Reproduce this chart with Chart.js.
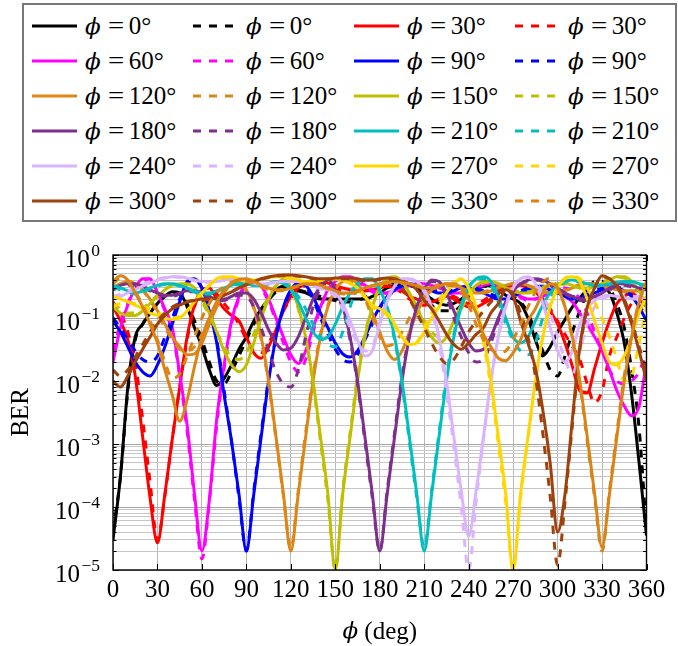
<!DOCTYPE html>
<html>
<head>
<meta charset="utf-8">
<script src="https://cdn.jsdelivr.net/npm/chart.js@4.4.0/dist/chart.umd.min.js"></script>
<style>
  body { margin: 0; background: #fff; }
  #wrap { position: relative; width: 678px; height: 646px; }
  #chart { position: absolute; left: 0; top: 0; }
  #legendBox { position: absolute; left: 22px; top: 3px; width: 655px; height: 219px;
    border: 2px solid #777; box-sizing: border-box; background: #fff; }
  .item { position: absolute; height: 35px; display: flex; align-items: center;
    font-family: "Liberation Serif", "DejaVu Serif", serif; font-size: 25px; color: #000; white-space: nowrap; }
  .item svg { margin-right: 8px; }
  .item i { font-family: "DejaVu Serif", serif; font-size: 23px; }
  .item .eq { display: inline-block; margin: 0 6px 0 8px; transform: scaleX(1.15); }
</style>
</head>
<body>
<div id="wrap">
  <canvas id="chart" width="678" height="646"></canvas>
  <div id="legendBox"></div>
</div>
<script>
// phase offset (deg), shared x values
const phiDeg = [0,5,10,15,20,25,30,35,40,45,50,55,60,65,70,75,80,85,90,95,100,105,110,115,
  120,125,130,135,140,145,150,155,160,165,170,175,180,185,190,195,200,205,210,215,220,225,230,235,
  240,245,250,255,260,265,270,275,280,285,290,295,300,305,310,315,320,325,330,335,340,345,350,355,360];

const xTicks = [0,30,60,90,120,150,180,210,240,270,300,330,360];
const yDecades = [-5,-4,-3,-2,-1,0];

// BER curves (solid / dashed for each phi)
const ber0 = [3e-5,3e-4,8e-3,0.05,0.08,0.12,0.17,0.22,0.26,0.25,0.15,0.07,
  0.035,0.015,0.0085,0.011,0.018,0.032,0.05,0.09,0.14,0.2,0.28,0.32,
  0.3,0.27,0.25,0.22,0.2,0.2,0.2,0.2,0.2,0.2,0.2,0.22,
  0.25,0.3,0.33,0.35,0.33,0.3,0.25,0.2,0.17,0.16,0.17,0.2,
  0.25,0.3,0.33,0.32,0.28,0.23,0.2,0.17,0.1,0.045,0.025,0.035,
  0.06,0.095,0.15,0.21,0.28,0.33,0.34,0.25,0.12,0.04,6e-3,5e-4,
  3.5e-5];
const ber0d = [4e-5,3e-4,7e-3,0.045,0.08,0.12,0.17,0.22,0.25,0.24,0.17,0.09,
  0.045,0.02,0.01,0.009,0.014,0.025,0.045,0.08,0.13,0.19,0.26,0.3,
  0.3,0.28,0.26,0.24,0.22,0.2,0.19,0.18,0.18,0.19,0.21,0.25,
  0.3,0.35,0.37,0.38,0.34,0.28,0.21,0.16,0.13,0.13,0.13,0.16,
  0.22,0.28,0.32,0.32,0.3,0.26,0.22,0.18,0.12,0.06,0.03,0.015,
  0.012,0.025,0.06,0.13,0.25,0.38,0.38,0.3,0.17,0.07,0.015,1.8e-3,
  4e-5];
const ber30 = [0.15,0.09,0.045,0.012,1.3e-3,1.4e-4,2.7e-5,1.6e-4,1.2e-3,8e-3,0.05,0.16,
  0.28,0.3,0.2,0.14,0.11,0.09,0.05,0.028,0.023,0.035,0.065,0.13,
  0.22,0.3,0.35,0.38,0.38,0.36,0.33,0.3,0.28,0.27,0.27,0.28,
  0.3,0.32,0.3,0.27,0.22,0.2,0.18,0.18,0.2,0.22,0.2,0.17,
  0.15,0.15,0.17,0.2,0.25,0.3,0.33,0.33,0.3,0.26,0.2,0.13,
  0.08,0.04,0.017,0.007,0.0065,0.016,0.04,0.09,0.17,0.22,0.25,0.2,
  0.15];
const ber30d = [0.18,0.12,0.06,0.02,2.5e-3,2.5e-4,3e-5,1.5e-4,1.2e-3,8e-3,0.045,0.15,
  0.27,0.3,0.24,0.17,0.12,0.08,0.045,0.03,0.028,0.04,0.07,0.13,
  0.2,0.28,0.33,0.36,0.36,0.34,0.3,0.27,0.25,0.25,0.27,0.3,
  0.33,0.33,0.3,0.25,0.2,0.17,0.16,0.17,0.2,0.23,0.22,0.19,
  0.17,0.17,0.19,0.23,0.28,0.32,0.35,0.35,0.32,0.26,0.2,0.14,
  0.09,0.055,0.035,0.022,0.009,0.0045,0.007,0.025,0.05,0.1,0.17,0.2,
  0.18];
const ber60 = [0.02,0.07,0.16,0.3,0.42,0.42,0.25,0.14,0.07,0.013,2e-3,1.6e-4,
  2e-5,1.3e-4,2.5e-3,0.018,0.09,0.22,0.35,0.38,0.32,0.2,0.1,0.05,
  0.026,0.019,0.03,0.07,0.15,0.28,0.38,0.45,0.45,0.4,0.33,0.28,
  0.25,0.25,0.27,0.3,0.33,0.35,0.35,0.33,0.3,0.27,0.25,0.25,
  0.27,0.3,0.33,0.35,0.33,0.3,0.26,0.22,0.2,0.2,0.22,0.25,
  0.25,0.22,0.18,0.12,0.08,0.05,0.03,0.015,0.007,0.004,0.0028,0.004,
  0.02];
const ber60d = [0.03,0.08,0.17,0.3,0.4,0.38,0.24,0.13,0.06,0.012,1.6e-3,1.3e-4,
  1.5e-5,1.2e-4,2e-3,0.016,0.08,0.2,0.33,0.36,0.3,0.18,0.09,0.04,
  0.02,0.014,0.022,0.06,0.14,0.27,0.37,0.43,0.43,0.38,0.31,0.26,
  0.24,0.25,0.28,0.32,0.35,0.36,0.35,0.32,0.28,0.25,0.24,0.25,
  0.28,0.32,0.35,0.36,0.34,0.3,0.25,0.21,0.19,0.2,0.23,0.27,
  0.3,0.3,0.27,0.2,0.12,0.06,0.03,0.015,0.01,0.009,0.01,0.014,
  0.03];
const ber90 = [0.09,0.06,0.035,0.02,0.014,0.012,0.018,0.035,0.08,0.18,0.38,0.42,
  0.3,0.13,0.04,6e-3,1.1e-3,1.6e-4,2e-5,1.6e-4,1.3e-3,0.01,0.05,0.15,
  0.28,0.36,0.33,0.22,0.12,0.07,0.04,0.027,0.024,0.03,0.05,0.09,
  0.15,0.22,0.28,0.33,0.35,0.33,0.3,0.27,0.25,0.25,0.27,0.3,
  0.3,0.28,0.25,0.22,0.2,0.2,0.22,0.25,0.28,0.3,0.3,0.28,
  0.25,0.22,0.2,0.2,0.22,0.25,0.28,0.3,0.3,0.27,0.22,0.15,
  0.09];
const ber90d = [0.1,0.07,0.045,0.03,0.022,0.02,0.025,0.05,0.1,0.2,0.35,0.4,
  0.3,0.14,0.045,7e-3,1.1e-3,1.4e-4,2e-5,1.8e-4,1.5e-3,0.011,0.05,0.14,
  0.26,0.33,0.3,0.2,0.1,0.055,0.032,0.022,0.02,0.026,0.045,0.08,
  0.14,0.21,0.27,0.32,0.34,0.33,0.31,0.28,0.26,0.26,0.28,0.31,
  0.32,0.3,0.27,0.24,0.22,0.22,0.24,0.27,0.3,0.32,0.32,0.3,
  0.27,0.24,0.22,0.22,0.24,0.27,0.3,0.31,0.31,0.28,0.23,0.16,
  0.1];
const ber120 = [0.3,0.35,0.38,0.35,0.28,0.2,0.13,0.08,0.05,0.035,0.026,0.027,
  0.04,0.08,0.15,0.25,0.35,0.38,0.28,0.15,0.05,0.01,1.3e-3,1.6e-4,
  2e-5,1.6e-4,1.3e-3,0.01,0.05,0.15,0.28,0.38,0.4,0.35,0.22,0.12,
  0.06,0.03,0.022,0.03,0.06,0.12,0.2,0.28,0.33,0.35,0.33,0.3,
  0.27,0.25,0.25,0.27,0.3,0.33,0.35,0.35,0.33,0.3,0.27,0.25,
  0.25,0.27,0.3,0.33,0.35,0.35,0.33,0.3,0.28,0.27,0.27,0.28,
  0.3];
const ber120d = [0.28,0.32,0.35,0.33,0.27,0.19,0.12,0.07,0.045,0.032,0.03,0.035,
  0.055,0.1,0.18,0.28,0.36,0.37,0.27,0.14,0.045,9e-3,1.2e-3,1.5e-4,
  2.2e-5,1.8e-4,1.5e-3,0.012,0.055,0.16,0.29,0.37,0.38,0.32,0.2,0.1,
  0.05,0.036,0.04,0.06,0.1,0.16,0.23,0.3,0.34,0.35,0.33,0.3,
  0.27,0.25,0.26,0.28,0.31,0.34,0.35,0.34,0.32,0.29,0.26,0.25,
  0.26,0.28,0.31,0.34,0.35,0.34,0.32,0.29,0.27,0.26,0.26,0.27,
  0.28];
const ber150 = [0.15,0.12,0.11,0.11,0.13,0.17,0.22,0.28,0.33,0.35,0.35,0.3,
  0.2,0.12,0.06,0.03,0.018,0.014,0.018,0.04,0.1,0.2,0.32,0.42,
  0.3,0.15,0.05,0.01,1.3e-3,1.6e-4,1e-5,1.6e-4,1.3e-3,0.01,0.05,0.15,
  0.3,0.42,0.45,0.38,0.25,0.15,0.08,0.05,0.04,0.05,0.09,0.16,
  0.25,0.33,0.38,0.38,0.35,0.3,0.27,0.25,0.25,0.27,0.3,0.33,
  0.35,0.35,0.33,0.3,0.3,0.32,0.35,0.4,0.45,0.45,0.38,0.27,
  0.15];
const ber150d = [0.17,0.14,0.12,0.12,0.14,0.18,0.23,0.29,0.33,0.34,0.33,0.27,
  0.18,0.11,0.06,0.035,0.024,0.022,0.028,0.055,0.12,0.22,0.33,0.4,
  0.3,0.14,0.045,9e-3,1.1e-3,1.3e-4,1e-5,1.8e-4,1.5e-3,0.012,0.055,0.16,
  0.31,0.41,0.43,0.36,0.24,0.15,0.09,0.06,0.05,0.05,0.08,0.14,
  0.22,0.3,0.36,0.37,0.35,0.31,0.28,0.26,0.26,0.28,0.31,0.34,
  0.35,0.34,0.32,0.3,0.3,0.33,0.37,0.41,0.44,0.43,0.37,0.27,
  0.17];
const ber180 = [0.3,0.33,0.35,0.35,0.32,0.28,0.25,0.23,0.23,0.25,0.27,0.27,
  0.25,0.22,0.2,0.2,0.22,0.25,0.25,0.2,0.12,0.065,0.04,0.031,
  0.033,0.05,0.1,0.2,0.32,0.42,0.28,0.15,0.05,0.01,1.3e-3,1.6e-4,
  2e-5,1.6e-4,1.3e-3,0.01,0.05,0.15,0.28,0.4,0.38,0.25,0.13,0.07,
  0.04,0.03,0.032,0.05,0.1,0.18,0.27,0.35,0.4,0.42,0.4,0.35,
  0.3,0.25,0.22,0.2,0.2,0.22,0.25,0.3,0.35,0.35,0.33,0.3,
  0.3];
const ber180d = [0.28,0.31,0.33,0.33,0.3,0.27,0.24,0.22,0.22,0.24,0.26,0.26,
  0.24,0.21,0.19,0.19,0.21,0.23,0.22,0.15,0.07,0.03,0.014,9e-3,
  8e-3,0.015,0.05,0.15,0.3,0.4,0.27,0.14,0.045,9e-3,1.1e-3,1.4e-4,
  2e-5,1.8e-4,1.5e-3,0.012,0.055,0.16,0.29,0.38,0.36,0.22,0.1,0.05,
  0.028,0.02,0.022,0.04,0.09,0.17,0.26,0.34,0.39,0.4,0.38,0.33,
  0.28,0.24,0.21,0.19,0.19,0.21,0.24,0.28,0.32,0.33,0.31,0.29,
  0.28];
const ber210 = [0.33,0.3,0.27,0.25,0.27,0.3,0.33,0.35,0.35,0.33,0.3,0.27,
  0.25,0.25,0.27,0.3,0.33,0.35,0.35,0.33,0.33,0.35,0.38,0.35,
  0.28,0.18,0.1,0.06,0.046,0.05,0.08,0.15,0.25,0.35,0.42,0.42,
  0.28,0.15,0.05,0.01,1.3e-3,1.6e-4,2e-5,1.6e-4,1.3e-3,0.01,0.05,0.15,
  0.3,0.42,0.45,0.38,0.22,0.1,0.05,0.04,0.05,0.09,0.16,0.25,
  0.33,0.38,0.4,0.38,0.35,0.33,0.33,0.35,0.37,0.38,0.38,0.35,
  0.33];
const ber210d = [0.31,0.28,0.26,0.24,0.26,0.29,0.32,0.34,0.34,0.32,0.29,0.26,
  0.24,0.24,0.26,0.29,0.32,0.34,0.34,0.33,0.33,0.35,0.37,0.36,
  0.3,0.22,0.14,0.08,0.05,0.038,0.035,0.06,0.15,0.3,0.4,0.4,
  0.27,0.14,0.045,9e-3,1.1e-3,1.4e-4,2.3e-5,1.8e-4,1.5e-3,0.012,0.055,0.16,
  0.31,0.41,0.42,0.33,0.18,0.08,0.045,0.03,0.026,0.04,0.1,0.2,
  0.31,0.37,0.39,0.37,0.34,0.32,0.32,0.34,0.36,0.37,0.36,0.34,
  0.31];
const ber240 = [0.2,0.22,0.25,0.28,0.32,0.36,0.4,0.43,0.45,0.45,0.43,0.4,
  0.38,0.38,0.38,0.4,0.42,0.42,0.4,0.37,0.35,0.35,0.37,0.38,
  0.38,0.38,0.36,0.33,0.3,0.28,0.25,0.17,0.09,0.045,0.025,0.03,
  0.08,0.18,0.32,0.42,0.42,0.38,0.28,0.15,0.05,0.01,1.3e-3,1.8e-4,
  3.4e-5,1.8e-4,1.3e-3,0.01,0.05,0.15,0.3,0.42,0.45,0.35,0.17,0.07,
  0.03,0.02,0.03,0.08,0.14,0.19,0.22,0.23,0.22,0.21,0.2,0.2,
  0.2];
const ber240d = [0.22,0.24,0.27,0.3,0.34,0.38,0.41,0.44,0.45,0.44,0.42,0.39,
  0.37,0.37,0.38,0.4,0.41,0.41,0.39,0.36,0.34,0.35,0.37,0.38,
  0.38,0.37,0.35,0.32,0.29,0.26,0.22,0.14,0.07,0.04,0.03,0.035,
  0.09,0.2,0.33,0.41,0.41,0.36,0.26,0.13,0.04,7e-3,9e-4,1e-4,
  1e-5,1.2e-4,1.2e-3,0.01,0.05,0.16,0.31,0.42,0.44,0.38,0.24,0.12,
  0.05,0.022,0.013,0.03,0.08,0.15,0.2,0.22,0.22,0.22,0.22,0.22,
  0.22];
const ber270 = [0.22,0.2,0.18,0.16,0.14,0.12,0.11,0.1,0.095,0.1,0.13,0.18,
  0.25,0.33,0.42,0.45,0.45,0.42,0.4,0.4,0.42,0.45,0.45,0.45,
  0.43,0.4,0.38,0.38,0.4,0.42,0.42,0.4,0.36,0.3,0.22,0.16,
  0.14,0.12,0.08,0.05,0.038,0.04,0.06,0.1,0.15,0.25,0.35,0.42,
  0.3,0.15,0.05,0.01,1.3e-3,1.6e-4,1e-5,1.6e-4,1.3e-3,0.01,0.05,0.15,
  0.3,0.42,0.45,0.38,0.2,0.09,0.04,0.02,0.018,0.025,0.05,0.12,
  0.22];
const ber270d = [0.15,0.17,0.18,0.17,0.15,0.14,0.12,0.11,0.1,0.105,0.13,0.18,
  0.25,0.33,0.41,0.44,0.44,0.41,0.39,0.39,0.41,0.44,0.45,0.44,
  0.42,0.39,0.37,0.37,0.39,0.41,0.41,0.39,0.35,0.29,0.21,0.15,
  0.13,0.11,0.075,0.05,0.04,0.042,0.07,0.12,0.19,0.29,0.38,0.41,
  0.28,0.13,0.04,8e-3,1e-3,1.2e-4,1e-5,1.4e-4,1.2e-3,0.01,0.05,0.16,
  0.31,0.43,0.46,0.42,0.3,0.18,0.1,0.05,0.022,0.01,0.012,0.04,
  0.15];
const ber300 = [0.01,0.008,0.012,0.02,0.032,0.05,0.08,0.11,0.14,0.16,0.18,0.19,
  0.2,0.2,0.21,0.23,0.26,0.3,0.34,0.38,0.42,0.45,0.47,0.48,
  0.48,0.47,0.45,0.43,0.42,0.42,0.43,0.43,0.43,0.42,0.4,0.4,
  0.42,0.43,0.42,0.38,0.35,0.28,0.19,0.14,0.09,0.055,0.038,0.032,
  0.04,0.055,0.07,0.12,0.17,0.28,0.22,0.09,0.04,0.016,3.5e-3,5e-4,
  4e-5,1.6e-4,2.5e-3,0.035,0.15,0.3,0.47,0.42,0.32,0.18,0.08,0.03,
  0.01];
const ber300d = [0.015,0.012,0.015,0.024,0.038,0.06,0.09,0.12,0.15,0.17,0.18,0.19,
  0.19,0.2,0.21,0.23,0.26,0.3,0.34,0.38,0.41,0.44,0.46,0.47,
  0.47,0.46,0.44,0.42,0.41,0.41,0.42,0.42,0.42,0.41,0.39,0.39,
  0.41,0.41,0.38,0.3,0.2,0.12,0.07,0.04,0.025,0.019,0.022,0.035,
  0.06,0.09,0.13,0.18,0.24,0.3,0.24,0.12,0.05,0.012,1.5e-3,1.5e-4,
  1.2e-5,1.2e-4,2e-3,0.03,0.14,0.3,0.45,0.42,0.33,0.2,0.09,0.035,
  0.015];
const ber330 = [0.38,0.47,0.4,0.25,0.15,0.08,0.04,0.015,6e-3,2.3e-3,5e-3,0.017,
  0.05,0.1,0.18,0.27,0.36,0.41,0.42,0.38,0.33,0.3,0.28,0.28,
  0.3,0.33,0.35,0.35,0.33,0.3,0.27,0.25,0.25,0.27,0.3,0.33,
  0.35,0.37,0.38,0.37,0.35,0.33,0.3,0.3,0.32,0.35,0.35,0.3,
  0.2,0.12,0.055,0.035,0.023,0.021,0.028,0.045,0.09,0.14,0.25,0.35,
  0.3,0.15,0.05,0.01,1.3e-3,1.6e-4,2.3e-5,1.6e-4,1.3e-3,0.01,0.05,0.18,
  0.38];
const ber330d = [0.35,0.43,0.38,0.26,0.16,0.09,0.045,0.02,0.011,0.013,0.025,0.05,
  0.1,0.17,0.25,0.32,0.37,0.39,0.38,0.35,0.31,0.28,0.27,0.27,
  0.29,0.32,0.34,0.34,0.32,0.29,0.26,0.24,0.24,0.26,0.29,0.32,
  0.34,0.36,0.37,0.36,0.34,0.32,0.29,0.29,0.31,0.33,0.32,0.26,
  0.16,0.08,0.045,0.032,0.028,0.03,0.045,0.08,0.15,0.26,0.37,0.43,
  0.29,0.15,0.045,9e-3,1.1e-3,1.4e-4,2e-5,1.8e-4,1.5e-3,0.012,0.055,0.18,
  0.35];

const angles = [0,30,60,90,120,150,180,210,240,270,300,330];
const colors = ['#000000','#ff0000','#ff00ff','#0000ff','#dd8616','#bfbf00',
  '#7e2f8e','#00bfbf','#dbb4ff','#ffd700','#9e410d','#d98414'];
const solidSeries = [ber0,ber30,ber60,ber90,ber120,ber150,ber180,ber210,ber240,ber270,ber300,ber330];
const dashedSeries = [ber0d,ber30d,ber60d,ber90d,ber120d,ber150d,ber180d,ber210d,ber240d,ber270d,ber300d,ber330d];

const series = [];
angles.forEach((a, i) => {
  series.push({ angle: a, color: colors[i], dashed: false, values: solidSeries[i] });
  series.push({ angle: a, color: colors[i], dashed: true, values: dashedSeries[i] });
});

const DASH = [8, 8];
const SERIF = '"Liberation Serif", "DejaVu Serif", serif';

// html legend, 4 columns x 6 rows
const wrap = document.getElementById('wrap');
series.forEach((s, i) => {
  const col = i % 4, row = Math.floor(i / 4);
  const el = document.createElement('div');
  el.className = 'item';
  el.style.left = (32 + col * 161) + 'px';
  el.style.top = (8 + row * 35) + 'px';
  el.innerHTML = '<svg width="45" height="6"><line x1="0" y1="3" x2="45" y2="3" stroke="' + s.color +
    '" stroke-width="3"' + (s.dashed ? ' stroke-dasharray="8 8"' : '') + '/></svg>' +
    '<span><i>\u03d5</i><span class="eq">=</span>' + s.angle + '\u00b0</span>';
  wrap.appendChild(el);
});

const decor = {
  id: 'decor',
  afterDraw(chart) {
    const { ctx, chartArea: a, scales: { x, y } } = chart;
    ctx.save();
    ctx.fillStyle = '#000';
    ctx.strokeStyle = '#000';

    // inner tick marks
    ctx.lineWidth = 1;
    y.ticks.forEach(t => {
      const py = Math.round(y.getPixelForValue(t.value)) + 0.5;
      const l = Math.log10(t.value);
      const len = Math.abs(l - Math.round(l)) < 1e-6 ? 6 : 3.5;
      ctx.beginPath();
      ctx.moveTo(a.left, py); ctx.lineTo(a.left + len, py);
      ctx.moveTo(a.right, py); ctx.lineTo(a.right - len, py);
      ctx.stroke();
    });
    xTicks.forEach(v => {
      const px = Math.round(x.getPixelForValue(v)) + 0.5;
      ctx.beginPath();
      ctx.moveTo(px, a.bottom); ctx.lineTo(px, a.bottom - 6);
      ctx.moveTo(px, a.top); ctx.lineTo(px, a.top + 6);
      ctx.stroke();
    });

    // frame
    ctx.lineWidth = 1.4;
    ctx.strokeRect(a.left, a.top, a.right - a.left, a.bottom - a.top);

    // y tick labels 10^e
    ctx.textAlign = 'right';
    ctx.textBaseline = 'alphabetic';
    yDecades.forEach(e => {
      const py = y.getPixelForValue(Math.pow(10, e));
      const exp = e === 0 ? '0' : '\u2212' + (-e);
      ctx.font = '17.5px ' + SERIF;
      const w = ctx.measureText(exp).width;
      ctx.fillText(exp, 100, py + 1);
      ctx.font = '25px ' + SERIF;
      ctx.fillText('10', 100 - w - 1.5, py + 12);
    });

    // axis titles
    ctx.font = '25px ' + SERIF;
    ctx.textAlign = 'center';
    ctx.textBaseline = 'middle';
    ctx.save();
    ctx.translate(21, (a.top + a.bottom) / 2);
    ctx.rotate(-Math.PI / 2);
    ctx.fillText('BER', 0, 0);
    ctx.restore();

    const cx = (a.left + a.right) / 2;
    ctx.font = 'italic 23px "DejaVu Serif", serif';
    const w1 = ctx.measureText('\u03d5').width;
    ctx.font = '25px ' + SERIF;
    const w2 = ctx.measureText(' (deg)').width;
    const x0 = cx - (w1 + w2) / 2;
    ctx.textAlign = 'left';
    ctx.font = 'italic 23px "DejaVu Serif", serif';
    ctx.fillText('\u03d5', x0, 632);
    ctx.font = '25px ' + SERIF;
    ctx.fillText(' (deg)', x0 + w1, 632);
    ctx.restore();
  }
};

const minorGrid = '#c6c6c6', majorGrid = '#a6a6a6';

new Chart(document.getElementById('chart'), {
  type: 'line',
  data: {
    datasets: series.map((s, i) => ({
      label: '\u03d5 = ' + s.angle + '\u00b0',
      data: phiDeg.map((p, k) => ({ x: p, y: s.values[k] })),
      borderColor: s.color,
      borderWidth: 3,
      borderDash: s.dashed ? DASH : [],
      pointRadius: 0,
      fill: false,
      cubicInterpolationMode: 'monotone',
      order: series.length - 1 - i
    }))
  },
  options: {
    responsive: false,
    animation: false,
    devicePixelRatio: 1,
    layout: { padding: { left: 13, right: 31.5, top: 255, bottom: 26 } },
    plugins: { legend: { display: false }, tooltip: { enabled: false } },
    scales: {
      x: {
        type: 'linear', min: 0, max: 360,
        afterBuildTicks: s => { s.ticks = xTicks.map(v => ({ value: v })); },
        afterFit: s => { s.height = 50; },
        ticks: { color: '#000', font: { family: SERIF, size: 25 }, padding: 5, maxRotation: 0, autoSkip: false },
        grid: { color: '#b8b8b8', drawTicks: false },
        border: { display: false }
      },
      y: {
        type: 'logarithmic', min: 1e-5, max: 1,
        afterBuildTicks: s => {
          const t = [];
          yDecades.forEach(e => {
            for (let m = 1; m <= (e === 0 ? 1 : 9); m++) t.push({ value: m * Math.pow(10, e) });
          });
          s.ticks = t;
        },
        afterFit: s => { s.width = 100; },
        ticks: { display: false, autoSkip: false },
        grid: {
          drawTicks: false,
          color: c => {
            const l = Math.log10(c.tick.value);
            return Math.abs(l - Math.round(l)) < 1e-6 ? majorGrid : minorGrid;
          }
        },
        border: { display: false }
      }
    }
  },
  plugins: [decor]
});
</script>
</body>
</html>
